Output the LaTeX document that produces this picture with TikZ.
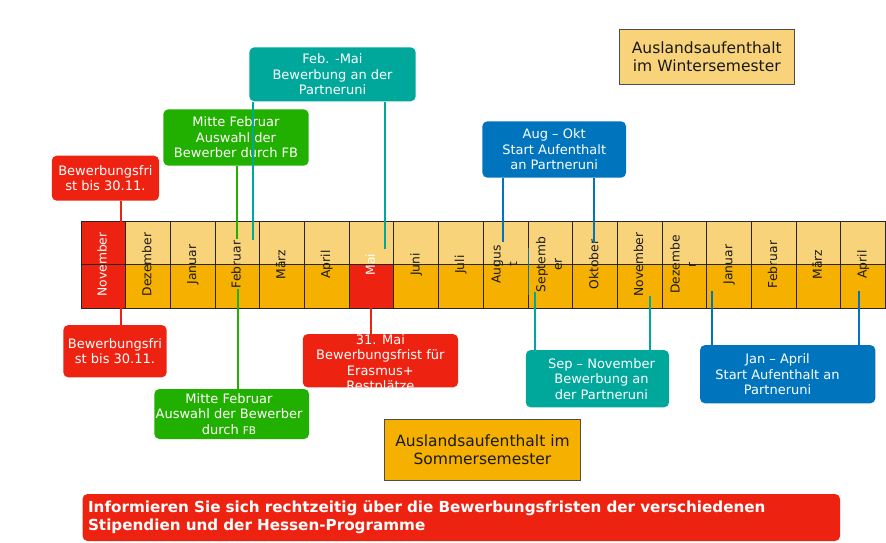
\documentclass[tikz,border=0pt]{standalone}
\usepackage{fontspec}
\setmainfont{DejaVu Sans}
\usetikzlibrary{positioning}
\definecolor{wred}{RGB}{238,34,17}
\definecolor{wgreen}{RGB}{34,176,0}
\definecolor{wteal}{RGB}{0,168,156}
\definecolor{wblue}{RGB}{0,117,190}
\definecolor{wlight}{RGB}{249,211,122}
\definecolor{worange}{RGB}{246,177,0}
\newcommand\mon[1]{\rotatebox{90}{\renewcommand\arraystretch{1.17}\begin{tabular}{@{}c@{}}#1\end{tabular}}}
\tikzset{%
  cell/.style 2 args={draw=black!85,line width=1pt,outer sep=0pt,inner sep=0pt,
    minimum width=44.7pt,minimum height=87pt,text=black!90,
    font=\fontsize{12.3}{14}\selectfont,
    path picture={
      \fill[#1] (path picture bounding box.north west) rectangle (path picture bounding box.east);
      \fill[#2] (path picture bounding box.west) rectangle (path picture bounding box.south east);
      \draw[black!85,line width=1pt] (path picture bounding box.west) -- (path picture bounding box.east);}},
  month/.style={cell={wlight}{worange}},
  dl/.style={cell={wred}{wred},text=white},
  dlmai/.style={cell={wlight}{wred},text=white},
  box/.style={rounded corners=5pt,inner sep=2pt,align=center,text=white,
    font=\fontsize{13}{15.5}\selectfont},
  txt/.style={inner sep=0pt,align=center,text=white,font=\fontsize{13}{15.5}\selectfont},
  sem/.style={draw=black!70,line width=1pt,align=center,text=black!90,
    font=\fontsize{15.5}{18.3}\selectfont},
  link/.style={line width=2pt}
}

\begin{document}
\begin{tikzpicture}[x=1pt,y=-1pt]
  \useasboundingbox (0,0) rectangle (886,542);

  % months
  \node[dl] (nov1) at (103.35,264.5) {\mon{November}};
  \node[month,right=0pt of nov1] (dez1) {\mon{Dezember}};
  \node[month,right=0pt of dez1] (jan1) {\mon{Januar}};
  \node[month,right=0pt of jan1] (feb1) {\mon{Februar}};
  \node[month,right=0pt of feb1] (mar1) {\mon{März}};
  \node[month,right=0pt of mar1] (apr1) {\mon{April}};
  \node[dlmai,right=0pt of apr1] (mai1) {\mon{Mai}};
  \node[month,right=0pt of mai1] (jun1) {\mon{Juni}};
  \node[month,right=0pt of jun1] (jul1) {\mon{Juli}};
  \node[month,right=0pt of jul1] (aug1) {\mon{Augus\\t}};
  \node[month,right=0pt of aug1] (sep1) {\mon{Septemb\\er}};
  \node[month,right=0pt of sep1] (okt1) {\mon{Oktober}};
  \node[month,right=0pt of okt1] (nov2) {\mon{November}};
  \node[month,right=0pt of nov2] (dez2) {\mon{Dezembe\\r}};
  \node[month,right=0pt of dez2] (jan2) {\mon{Januar}};
  \node[month,right=0pt of jan2] (feb2) {\mon{Februar}};
  \node[month,right=0pt of feb2] (mar2) {\mon{März}};
  \node[month,right=0pt of mar2] (apr2) {\mon{April}};

  % ends of the connectors
  \coordinate (r1) at (121,243);
  \coordinate (r2) at (121,307);
  \coordinate (g1) at (236.5,239);
  \coordinate (g2) at (237.7,289);
  \coordinate (t1) at (253.3,240);
  \coordinate (t2) at (385,249);
  \coordinate (m1) at (370.7,307);
  \coordinate (b1) at (503.3,242);
  \coordinate (b2) at (594,243);
  \coordinate (s1) at (528.3,248);
  \coordinate (s2) at (528.3,295);
  \coordinate (t3) at (535,292);
  \coordinate (t4) at (650,295.7);
  \coordinate (b3) at (711.7,291);
  \coordinate (b4) at (859.3,291);

  % boxes
  \node[box,fill=wred,minimum width=107.3pt,minimum height=45pt] (frist1) at (105.4,178.2) {Bewerbungsfri\\st bis 30.11.};
  \node[box,fill=wgreen,minimum width=145.4pt,minimum height=56.4pt] (fb1) at (236,137.5) {Mitte Februar\\Auswahl der\\Bewerber durch FB};
  \node[box,fill=wteal,minimum width=166.4pt,minimum height=54pt] (bw1) at (332.5,74.3) {Feb. -Mai\\Bewerbung an der\\Partneruni};
  \node[box,fill=wblue,minimum width=143.7pt,minimum height=56.4pt] (st1) at (554.2,149.5) {Aug – Okt\\Start Aufenthalt\\an Partneruni};
  \node[sem,fill=wlight,minimum width=175pt,minimum height=55.7pt] (ws) at (706.8,56.9) {Auslandsaufenthalt\\im Wintersemester};

  \node[box,fill=wred,minimum width=103.4pt,minimum height=52.3pt] (frist2) at (115,351.2) {Bewerbungsfri\\st bis 30.11.};
  \node[box,fill=wgreen,minimum width=154.7pt,minimum height=50pt] (fb2) at (231.7,414) {};
  \node[txt] (fb2t) at (229,414) {Mitte Februar\\Auswahl der Bewerber\\durch {\fontsize{10.5}{15.5}\selectfont FB}};
  \node[box,fill=wred,minimum width=155.3pt,minimum height=53.3pt] (mai) at (380.4,360.7) {};
  \begin{scope}
    \clip[rounded corners=5pt] (mai.north west) rectangle (mai.south east);
    \node[txt] (mait) at (380.4,364) {31. Mai\\Bewerbungsfrist für\\Erasmus+\\Restplätze};
  \end{scope}
  \node[box,fill=wteal,minimum width=143.3pt,minimum height=57.3pt] (bw2) at (597.4,378.7) {};
  \node[txt] (bw2t) at (601.5,378.7) {Sep – November\\Bewerbung an\\der Partneruni};
  \node[box,fill=wblue,minimum width=175.3pt,minimum height=58.3pt] (st2) at (787.7,374.2) {};
  \node[txt] (st2t) at (777.5,374.2) {Jan – April\\Start Aufenthalt an\\Partneruni};
  \node[sem,fill=worange,minimum width=196.4pt,minimum height=61.7pt] (ss) at (482.5,449.9) {Auslandsaufenthalt im\\Sommersemester};

  \node[box,fill=wred,inner xsep=5.5pt,text width=746.5pt,minimum height=47pt,align=left,
    font=\bfseries\fontsize{15.2}{18.3}\selectfont] (info) at (461.3,517.5)
    {Informieren Sie sich rechtzeitig über die Bewerbungsfristen der verschiedenen\\Stipendien und der Hessen-Programme};

  % connectors
  \draw[link,wred] (frist1.south -| r1) -- (r1);
  \draw[link,wred] (r2) -- (r2 |- frist2.north);
  \draw[link,wgreen] (fb1.south -| g1) -- (g1);
  \draw[link,wgreen] (g2) -- (g2 |- fb2.north);
  \draw[link,wteal] (bw1.south -| t1) -- (t1);
  \draw[link,wteal] (bw1.south -| t2) -- (t2);
  \draw[link,wred] (m1) -- (m1 |- mai.north);
  \draw[link,wblue] (st1.south -| b1) -- (b1);
  \draw[link,wblue] (st1.south -| b2) -- (b2);
  \draw[link,wblue,line width=1.2pt] (s1) -- (s2);
  \draw[link,wteal] (t3) -- (t3 |- bw2.north);
  \draw[link,wteal] (t4) -- (t4 |- bw2.north);
  \draw[link,wblue] (b3) -- (b3 |- st2.north);
  \draw[link,wblue] (b4) -- (b4 |- st2.north);
\end{tikzpicture}
\end{document}
